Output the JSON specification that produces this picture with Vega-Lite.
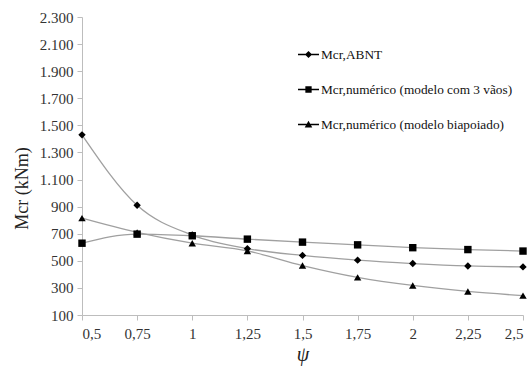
{
  "$schema": "https://vega.github.io/schema/vega-lite/v6.json",
  "width": 441,
  "height": 298,
  "autosize": {"type": "none"},
  "padding": {"left": 82, "top": 17, "right": 9, "bottom": 52},
  "background": "white",
  "config": {
    "locale": {"number": {"decimal": ",", "thousands": ".", "grouping": [3], "currency": ["", ""]}},
    "view": {"stroke": null},
    "font": "Liberation Serif",
    "axis": {
      "grid": false,
      "domainColor": "#bdbdbd",
      "tickColor": "#bdbdbd",
      "labelColor": "#333333",
      "labelFont": "Liberation Serif",
      "labelFontSize": 15,
      "titleFont": "Liberation Serif",
      "titleColor": "#222222",
      "titleFontWeight": "normal",
      "tickSize": 5
    }
  },
  "data": {
    "values": [
      {"psi": 0.5, "serie": "Mcr,ABNT", "mcr": 1430},
      {"psi": 0.75, "serie": "Mcr,ABNT", "mcr": 910},
      {"psi": 1.0, "serie": "Mcr,ABNT", "mcr": 690},
      {"psi": 1.25, "serie": "Mcr,ABNT", "mcr": 590},
      {"psi": 1.5, "serie": "Mcr,ABNT", "mcr": 540},
      {"psi": 1.75, "serie": "Mcr,ABNT", "mcr": 505},
      {"psi": 2.0, "serie": "Mcr,ABNT", "mcr": 480},
      {"psi": 2.25, "serie": "Mcr,ABNT", "mcr": 462},
      {"psi": 2.5, "serie": "Mcr,ABNT", "mcr": 455},
      {"psi": 0.5, "serie": "Mcr,numérico (modelo com 3 vãos)", "mcr": 630},
      {"psi": 0.75, "serie": "Mcr,numérico (modelo com 3 vãos)", "mcr": 697},
      {"psi": 1.0, "serie": "Mcr,numérico (modelo com 3 vãos)", "mcr": 685},
      {"psi": 1.25, "serie": "Mcr,numérico (modelo com 3 vãos)", "mcr": 660},
      {"psi": 1.5, "serie": "Mcr,numérico (modelo com 3 vãos)", "mcr": 638},
      {"psi": 1.75, "serie": "Mcr,numérico (modelo com 3 vãos)", "mcr": 618},
      {"psi": 2.0, "serie": "Mcr,numérico (modelo com 3 vãos)", "mcr": 597},
      {"psi": 2.25, "serie": "Mcr,numérico (modelo com 3 vãos)", "mcr": 583},
      {"psi": 2.5, "serie": "Mcr,numérico (modelo com 3 vãos)", "mcr": 572},
      {"psi": 0.5, "serie": "Mcr,numérico (modelo biapoiado)", "mcr": 815},
      {"psi": 0.75, "serie": "Mcr,numérico (modelo biapoiado)", "mcr": 710},
      {"psi": 1.0, "serie": "Mcr,numérico (modelo biapoiado)", "mcr": 630},
      {"psi": 1.25, "serie": "Mcr,numérico (modelo biapoiado)", "mcr": 573},
      {"psi": 1.5, "serie": "Mcr,numérico (modelo biapoiado)", "mcr": 465},
      {"psi": 1.75, "serie": "Mcr,numérico (modelo biapoiado)", "mcr": 378},
      {"psi": 2.0, "serie": "Mcr,numérico (modelo biapoiado)", "mcr": 318},
      {"psi": 2.25, "serie": "Mcr,numérico (modelo biapoiado)", "mcr": 274},
      {"psi": 2.5, "serie": "Mcr,numérico (modelo biapoiado)", "mcr": 243}
    ]
  },
  "encoding": {
    "x": {
      "field": "psi",
      "type": "quantitative",
      "scale": {"domain": [0.5, 2.5], "nice": false, "zero": false},
      "axis": {
        "values": [0.5, 0.75, 1, 1.25, 1.5, 1.75, 2, 2.25, 2.5],
        "labelExpr": "replace(toString(datum.value), '.', ',')",
        "labelPadding": 6,
        "title": "ψ",
        "titleFontSize": 20,
        "titleFontStyle": "italic",
        "titlePadding": 3
      }
    },
    "y": {
      "field": "mcr",
      "type": "quantitative",
      "scale": {"domain": [100, 2300], "nice": false, "zero": false},
      "axis": {
        "values": [100, 300, 500, 700, 900, 1100, 1300, 1500, 1700, 1900, 2100, 2300],
        "format": ",.0f",
        "labelPadding": 4,
        "title": "Mcr (kNm)",
        "titleFontSize": 18,
        "titleAngle": -90,
        "titleX": -60,
        "titleY": 171,
        "titleAlign": "center",
        "titleBaseline": "middle"
      }
    }
  },
  "layer": [
    {
      "mark": {"type": "line", "interpolate": "monotone", "color": "#a0a0a0", "strokeWidth": 1.3},
      "encoding": {"detail": {"field": "serie"}}
    },
    {
      "mark": {"type": "point", "filled": true, "color": "black", "opacity": 1},
      "encoding": {
        "shape": {
          "field": "serie",
          "type": "nominal",
          "scale": {
            "domain": ["Mcr,ABNT", "Mcr,numérico (modelo com 3 vãos)", "Mcr,numérico (modelo biapoiado)"],
            "range": ["diamond", "square", "triangle-up"]
          },
          "legend": null
        },
        "size": {"value": 55}
      }
    },
    {
      "mark": {"type": "point", "filled": true, "color": "black", "opacity": 0},
      "encoding": {
        "shape": {
          "field": "serie",
          "type": "nominal",
          "scale": {
            "domain": ["Mcr,ABNT", "Mcr,numérico (modelo com 3 vãos)", "Mcr,numérico (modelo biapoiado)"],
            "range": [
              "M-1,-0.06H1V0.06H-1Z M0,-0.34L0.34,0L0,0.34L-0.34,0Z",
              "M-1,-0.06H1V0.06H-1Z M-0.3,-0.3H0.3V0.3H-0.3Z",
              "M-1,-0.06H1V0.06H-1Z M0,-0.36L0.36,0.28H-0.36Z"
            ]
          },
          "legend": {
            "title": null,
            "orient": "none",
            "legendX": 216,
            "legendY": 27,
            "symbolSize": 441,
            "symbolOpacity": 1,
            "symbolFillColor": "black",
            "symbolStrokeWidth": 0,
            "labelFont": "Liberation Serif",
            "labelFontSize": 13.3,
            "labelColor": "#111111",
            "labelOffset": 2,
            "rowPadding": 18,
            "padding": 0,
            "labelLimit": 400
          }
        },
        "size": {"value": 441}
      }
    }
  ],
  "resolve": {"scale": {"shape": "independent"}}
}
